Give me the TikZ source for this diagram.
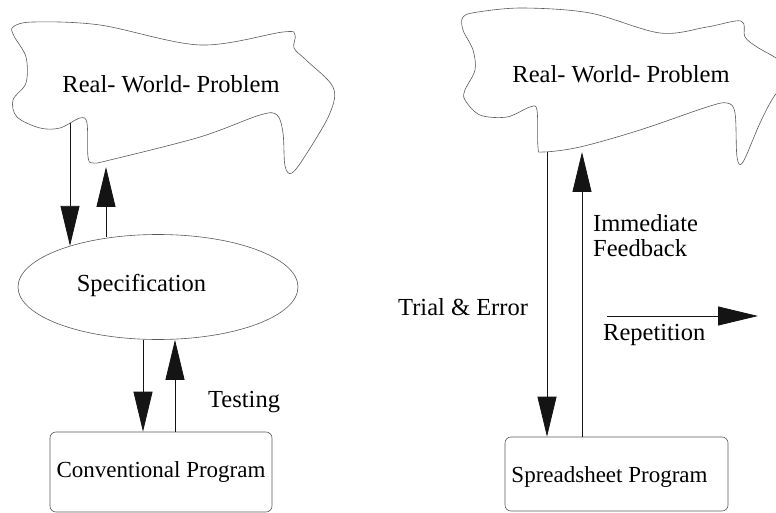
\documentclass[tikz,border=0pt]{standalone}
\usepackage{fontspec}
\setmainfont{Liberation Serif}
\usetikzlibrary{arrows.meta,shapes.geometric,positioning,calc}
\definecolor{lnblack}{RGB}{20,20,20}
\definecolor{lngray}{RGB}{90,90,90}

\begin{document}
\begin{tikzpicture}[x=1pt,y=-1pt,
    cloud/.style={draw=lngray,line width=0.6pt},
    prog/.style={draw=lngray,line width=0.6pt,rounded corners=6pt,
                 font=\fontsize{23}{25}\selectfont},
    txt/.style={font=\fontsize{24.5}{25}\selectfont,inner sep=0pt},
    arr/.style={-{Triangle[length=40pt,width=19pt]},draw=lnblack,
                line width=0.8pt}]
    \clip (0,0) rectangle (776,513);

    % left: conventional way
    \draw[cloud] plot[smooth cycle,tension=0.55] coordinates {
      (13,27) (33,22) (100,25) (200,45) (283,32) (295,35) (294,48)
      (306,60) (333,87) (330,113) (307,153) (292,173) (285,166)
      (283,133) (277,115) (260,115) (200,137) (110,160) (93,163)
      (88,157) (87,123) (80,118) (60,128) (40,128) (17,117) (13,100)
      (26,83) (26,57) (14,36)};
    \node[txt] (probL) at (171,84) {Real- World- Problem};
    \coordinate (probLout) at (70,123);
    \coordinate (probLin) at (106,167);

    \node[ellipse,draw=lngray,line width=0.6pt,minimum width=280pt,
          minimum height=105pt,inner sep=0pt] (spec) at (158,287) {};
    \node[txt] (specT) at (141.5,285) {Specification};

    \node[prog,minimum width=222pt,minimum height=80pt] (conv)
      at (161,472) {Conventional Program};

    \draw[arr] (probLout) -- (spec.155 -| probLout);
    \draw[arr] (spec.133 -| probLin) -- (probLin);
    \draw[arr] ([xshift=-15pt]spec.south) -- ([xshift=-15pt]spec.south |- conv.north);
    \draw[arr] ([xshift=14pt]conv.north) -- ([xshift=14pt]conv.north |- spec.south);
    \node[txt,anchor=west] (test) at (208,402) {Testing};

    % right: spreadsheet way
    \draw[cloud] plot[smooth cycle,tension=0.55] coordinates {
      (463,17) (478,12) (523,8) (590,13) (660,33) (707,27) (741,21)
      (745,37) (757,47) (776,58) (795,72) (775,95) (760,123) (743,162)
      (737,157) (735,113) (727,103) (707,107) (640,130) (580,147)
      (543,152) (538,147) (537,110) (530,107) (507,117) (480,115)
      (465,100) (465,90) (475,70) (473,50) (463,30)};
    \node[txt] (probR) at (621,74) {Real- World- Problem};
    \coordinate (probRout) at (547,152);
    \coordinate (probRin) at (582,152);

    \node[prog,minimum width=223pt,minimum height=74pt] (sheet)
      at (616.5,474) {};
    \node[font=\fontsize{23}{25}\selectfont,inner sep=0pt] (sheetT)
      at (609.5,477) {Spreadsheet Program};

    \draw[arr] (probRout) -- (probRout |- sheet.north);
    \draw[arr] (probRin |- sheet.north) -- (probRin);
    \node[txt,anchor=west,align=left] (feed) at (593,236)
      {Immediate\\Feedback};
    \node[txt,anchor=west] (trial) at (398,307) {Trial \& Error};

    \coordinate (repA) at (607,316);
    \coordinate (repB) at (758,316);
    \draw[arr] (repA) -- (repB);
    \node[txt,anchor=west] (rep) at (603,335) {Repetition};
\end{tikzpicture}
\end{document}
